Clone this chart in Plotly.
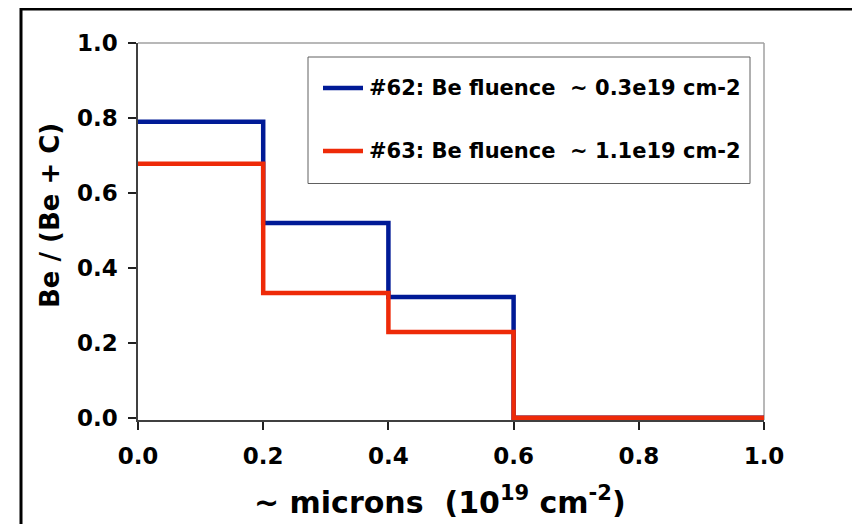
import plotly.graph_objects as go

# Step profiles: depth bin edges and Be/(Be+C) values
edges = [0.0, 0.2, 0.4, 0.6, 1.0]
be62 = [0.79, 0.52, 0.322, 0.0]
be63 = [0.678, 0.333, 0.229, 0.0]

names = ["#62: Be fluence  ~ 0.3e19 cm-2", "#63: Be fluence  ~ 1.1e19 cm-2"]
colors = ["#001a96", "#ee2a08"]

x_ticks = [0.0, 0.2, 0.4, 0.6, 0.8, 1.0]
y_ticks = [0.0, 0.2, 0.4, 0.6, 0.8, 1.0]

x_title = "~ microns&nbsp; (10<sup>19</sup> cm<sup>-2</sup>)"
y_title = "Be / (Be + C)"


def step_xy(e, v):
    xs, ys = [], []
    for i, val in enumerate(v):
        xs += [e[i], e[i + 1]]
        ys += [val, val]
    return xs, ys


fig = go.Figure()
for vals, nm, col in zip([be62, be63], names, colors):
    xs, ys = step_xy(edges, vals)
    fig.add_trace(go.Scatter(x=xs, y=ys, mode="lines", name=nm,
                             line=dict(color=col, width=4.5, shape="linear"),
                             showlegend=False))

# page body has an 8px margin; work in window pixels and shift
OX, OY = 8, 8
W, H = 860 - OX, 524 - OY
L, R, T, B = 138 - OX, 764 - OX, 43 - OY, 420 - OY
pw, ph = R - L, B - T

def px(x):
    return (x - OX - L) / pw

def py(y):
    return (B - (y - OY)) / ph

font_b = dict(family="DejaVu Sans", weight="bold", color="black")

shapes = []
# outer frame
shapes.append(dict(type="rect", xref="paper", yref="paper",
                   x0=px(21), x1=px(857.5), y0=py(545), y1=py(9),
                   line=dict(color="black", width=3), fillcolor="rgba(0,0,0,0)"))
# plot area top/right border (gray)
shapes.append(dict(type="line", xref="paper", yref="paper", x0=0, x1=1, y0=1, y1=1,
                   line=dict(color="#a0a0a0", width=1.5), layer="below"))
shapes.append(dict(type="line", xref="paper", yref="paper", x0=1, x1=1, y0=0, y1=1,
                   line=dict(color="#a0a0a0", width=1.5), layer="below"))
# legend box
shapes.append(dict(type="rect", xref="paper", yref="paper",
                   x0=px(308), x1=px(750), y0=py(183.5), y1=py(57),
                   line=dict(color="#606060", width=1), fillcolor="white"))

annotations = []
rows = [88, 151]
for yy, nm, col in zip(rows, names, colors):
    shapes.append(dict(type="line", xref="paper", yref="paper",
                       x0=px(323), x1=px(363), y0=py(yy), y1=py(yy),
                       line=dict(color=col, width=4.5)))
    annotations.append(dict(xref="paper", yref="paper", x=px(367), y=py(yy),
                            xanchor="left", yanchor="middle", showarrow=False,
                            text=nm.replace("  ", "&nbsp; "),
                            font=dict(size=21, **font_b)))

# axis titles
annotations.append(dict(xref="paper", yref="paper", x=px(440), y=py(500),
                        xanchor="center", yanchor="middle", showarrow=False,
                        text=x_title, font=dict(size=30, **font_b)))
annotations.append(dict(xref="paper", yref="paper", x=px(50), y=py(216),
                        xanchor="center", yanchor="middle", showarrow=False, textangle=-90,
                        text=y_title, font=dict(size=26, **font_b)))

fig.update_layout(
    width=W, height=H,
    margin=dict(l=L, r=W - R, t=T, b=H - B, pad=0),
    paper_bgcolor="white", plot_bgcolor="white",
    shapes=shapes, annotations=annotations,
    xaxis=dict(range=[0, 1.0], tickvals=x_ticks, ticktext=[f"{v:.1f}" for v in x_ticks],
               showgrid=False, zeroline=False, showline=True, linecolor="#404040", linewidth=1.5,
               ticks="outside", ticklen=8, tickcolor="#202020", tickwidth=1.5,
               tickfont=dict(size=23, **font_b), ticklabelstandoff=7, automargin=False),
    yaxis=dict(range=[-0.006, 1.0], tickvals=y_ticks, ticktext=[f"{v:.1f}" for v in y_ticks],
               showgrid=False, zeroline=False, showline=True, linecolor="#404040", linewidth=1.5,
               ticks="outside", ticklen=8, tickcolor="#202020", tickwidth=1.5,
               tickfont=dict(size=23, **font_b), ticklabelstandoff=6, automargin=False),
)

fig.write_html("out.html")
